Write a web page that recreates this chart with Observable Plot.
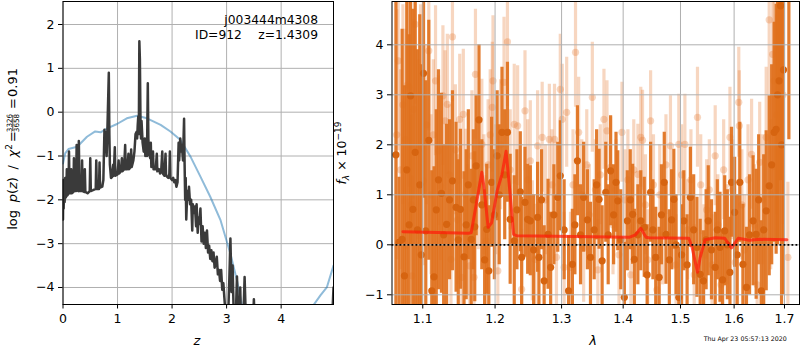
<!DOCTYPE html>
<html><head><meta charset="utf-8">
<script src="https://cdn.jsdelivr.net/npm/d3@7"></script>
<script src="https://cdn.jsdelivr.net/npm/@observablehq/plot@0.6"></script>
<style>
body{margin:0;background:#fff;}
#wrap{position:relative;width:800px;height:350px;font-family:"DejaVu Sans",sans-serif;background:#fff;}
#wrap svg{position:absolute;top:0;}
</style></head><body><div id="wrap"></div>
<script>
// ---------- Left panel: redshift probability ----------
const zTicks = [0, 1, 2, 3, 4];
const pTicks = [-4, -3, -2, -1, 0, 1, 2];
// log p(z): [z, log p]
const pzPoints = [[0.00,-2.45],[0.005,-1.55],[0.012,-2.2],[0.02,-1.7],[0.03,-2.05],[0.04,-1.5],[0.05,-1.95],[0.06,-1.92],[0.07,-1.3],[0.08,-1.9],[0.10,-1.86],[0.11,-0.9],[0.12,-1.85],[0.14,-1.85],[0.15,-1.3],[0.16,-1.85],[0.19,-1.82],[0.20,-1.05],[0.21,-1.8],[0.24,-1.8],[0.25,-0.75],[0.26,-1.78],[0.28,-1.8],[0.29,-0.66],[0.30,-1.5],[0.31,-1.8],[0.34,-1.8],[0.35,-1.1],[0.36,-1.8],[0.39,-1.82],[0.40,-1.3],[0.41,-1.82],[0.45,-1.85],[0.49,-1.8],[0.50,-1.05],[0.51,-1.8],[0.55,-1.78],[0.60,-1.75],[0.61,-1.1],[0.62,-1.75],[0.66,-1.75],[0.67,-1.15],[0.68,-1.72],[0.72,-1.7],[0.74,-1.55],[0.76,-0.4],[0.77,-0.7],[0.78,-0.45],[0.80,-1.0],[0.81,-0.6],[0.84,0.9],[0.85,-0.5],[0.86,-1.2],[0.88,-1.5],[0.90,-1.48],[0.92,-1.2],[0.93,-1.45],[0.95,-0.8],[0.96,-1.45],[1.00,-1.42],[1.02,-1.1],[1.03,-1.4],[1.06,-1.35],[1.08,-1.05],[1.09,-1.35],[1.12,-1.3],[1.14,-0.75],[1.15,-1.3],[1.18,-1.3],[1.20,-0.95],[1.21,-1.3],[1.24,-1.25],[1.25,-0.85],[1.26,-1.25],[1.29,-1.1],[1.31,-0.9],[1.33,-0.5],[1.35,-0.45],[1.36,-0.6],[1.37,-0.3],[1.38,-0.1],[1.39,-0.5],[1.40,1.62],[1.41,1.2],[1.42,-0.1],[1.43,-0.6],[1.44,-0.2],[1.46,-0.7],[1.48,-0.9],[1.50,-0.6],[1.51,-1.0],[1.53,-0.7],[1.54,-1.0],[1.555,0.66],[1.565,-0.6],[1.58,-0.95],[1.60,-1.05],[1.61,-0.7],[1.62,-1.25],[1.64,-1.15],[1.65,-0.9],[1.66,-1.3],[1.70,-1.3],[1.72,-0.95],[1.73,-1.35],[1.76,-1.3],[1.78,-1.4],[1.80,-1.35],[1.82,-0.9],[1.83,-1.4],[1.86,-1.45],[1.88,-0.95],[1.89,-1.45],[1.93,-1.5],[1.95,-1.4],[1.96,-0.9],[1.97,-1.5],[2.00,-1.55],[2.02,-1.5],[2.04,-1.6],[2.06,-1.55],[2.08,-1.7],[2.10,-1.6],[2.12,-0.7],[2.13,-1.1],[2.15,-0.6],[2.17,-0.9],[2.18,-0.75],[2.20,-1.1],[2.22,-0.15],[2.23,-1.2],[2.24,-2.0],[2.25,-1.5],[2.26,-2.45],[2.28,-1.8],[2.30,-2.0],[2.31,-1.7],[2.33,-2.1],[2.35,-2.0],[2.37,-2.7],[2.38,-2.1],[2.40,-2.3],[2.42,-2.15],[2.44,-2.6],[2.45,-2.1],[2.47,-2.75],[2.48,-2.4],[2.50,-2.55],[2.52,-2.2],[2.54,-2.95],[2.56,-2.6],[2.58,-3.0],[2.60,-2.75],[2.62,-3.1],[2.64,-2.7],[2.66,-3.2],[2.68,-3.05],[2.70,-3.35],[2.72,-3.15],[2.74,-3.4],[2.76,-3.2],[2.78,-3.55],[2.80,-3.45],[2.82,-3.3],[2.84,-3.7],[2.86,-3.6],[2.88,-3.85],[2.90,-3.6],[2.92,-4.05],[2.94,-3.9],[2.96,-4.25],[2.98,-4.6],[3.03,-4.6],[3.05,-3.8],[3.07,-2.88],[3.09,-4.1],[3.11,-3.5],[3.13,-4.6],[3.17,-4.6],[3.19,-3.75],[3.21,-4.6],[3.24,-4.6],[3.25,-4.0],[3.26,-4.6],[3.31,-4.6],[3.33,-3.76],[3.35,-4.6],[3.49,-4.6],[3.50,-4.27],[3.51,-4.6],[4.94,-4.6],[4.96,-4.0]];
// chi^2 curve: [z, value]; null = gap
const chiPoints = [[0.00,-1.17],[0.04,-0.94],[0.10,-0.84],[0.26,-0.79],[0.44,-0.56],[0.59,-0.44],[0.69,-0.46],[0.81,-0.37],[0.99,-0.27],[1.17,-0.14],[1.36,-0.08],[1.54,-0.14],[1.79,-0.29],[1.97,-0.44],[2.15,-0.63],[2.34,-1.02],[2.52,-1.47],[2.70,-1.93],[2.89,-2.47],[3.07,-3.23],[3.19,-3.84],[3.28,-4.39],[3.35,-4.8],[3.4,null],[4.5,null],[4.55,-4.8],[4.60,-4.39],[4.72,-4.18],[4.84,-3.99],[4.96,-3.5]];

// ---------- Right panel: spectrum ----------
const lamTicks = [1.1, 1.2, 1.3, 1.4, 1.5, 1.6, 1.7];
const fTicks = [-1, 0, 1, 2, 3, 4];
// [lambda, flux, error]
const darkPoints = [[1.065,1.8,4.0],[1.069,0.05,1.3],[1.073,0.11,4.2],[1.076,-0.62,3.8],[1.079,1.5,3.6],[1.082,0.4,3.8],[1.084,2.98,3.0],[1.087,0.71,4.0],[1.090,1.85,3.2],[1.093,0.3,3.6],[1.096,1.2,3.4],[1.098,-0.2,3.8],[1.101,3.43,2.5],[1.104,0.28,3.0],[1.108,2.09,2.4],[1.112,-0.92,2.4],[1.115,-0.64,2.2],[1.118,0.7,2.0],[1.121,1.3,2.2],[1.125,1.03,2.0],[1.128,0.2,1.8],[1.132,0.41,2.0],[1.136,0.9,1.6],[1.140,1.28,1.8],[1.145,0.75,1.7],[1.148,0.1,1.6],[1.151,0.71,1.6],[1.156,-0.24,1.7],[1.159,0.4,1.5],[1.162,1.2,1.5],[1.166,0.11,1.4],[1.169,0.9,1.4],[1.171,0.36,1.5],[1.173,1.58,1.4],[1.177,2.5,1.5],[1.181,0.8,1.3],[1.185,-0.3,1.4],[1.188,0.31,1.3],[1.191,-0.52,1.3],[1.195,1.25,1.3],[1.199,0.6,1.3],[1.203,1.78,1.3],[1.206,1.0,1.4],[1.210,2.25,1.3],[1.214,1.4,1.3],[1.218,2.25,1.4],[1.222,0.51,1.3],[1.228,0.08,1.3],[1.232,0.7,1.2],[1.237,1.06,1.2],[1.239,-0.25,1.2],[1.244,0.85,1.1],[1.248,0.51,1.1],[1.252,0.48,1.1],[1.257,-0.1,1.1],[1.263,0.55,1.1],[1.265,-0.25,1.1],[1.269,0.9,1.0],[1.273,-0.72,1.1],[1.279,0.21,1.1],[1.283,-0.45,1.1],[1.288,0.6,1.0],[1.294,0.95,1.1],[1.298,1.38,1.1],[1.304,0.3,1.0],[1.311,-0.92,1.1],[1.317,-0.39,1.1],[1.321,0.4,1.0],[1.325,1.68,1.1],[1.330,0.2,1.0],[1.335,0.95,1.1],[1.341,0.5,1.0],[1.346,-0.25,1.1],[1.352,0.3,1.0],[1.356,1.2,1.1],[1.360,0.91,1.0],[1.365,-0.32,1.1],[1.371,1.05,1.0],[1.375,0.2,1.0],[1.379,1.48,1.1],[1.384,0.6,1.0],[1.388,1.25,1.0],[1.391,0.88,1.0],[1.396,0.1,1.0],[1.402,-1.05,1.1],[1.407,0.48,1.0],[1.412,0.9,1.0],[1.416,0.61,1.0],[1.419,-0.29,1.0],[1.425,0.2,1.0],[1.430,0.48,1.0],[1.436,0.35,1.0],[1.441,-0.6,1.0],[1.447,1.05,1.0],[1.451,0.3,1.0],[1.456,-0.25,1.0],[1.462,-0.65,1.0],[1.466,0.6,1.0],[1.471,1.25,1.0],[1.474,0.21,1.0],[1.480,-0.3,1.0],[1.484,0.5,1.0],[1.488,0.91,1.0],[1.492,0.0,1.0],[1.497,-1.05,1.0],[1.502,-0.2,1.0],[1.506,0.48,1.0],[1.512,-0.4,1.0],[1.518,0.95,1.0],[1.524,0.3,1.1],[1.530,-0.05,1.0],[1.536,-0.59,1.1],[1.542,-0.72,1.0],[1.547,0.1,1.0],[1.551,0.48,1.1],[1.557,-0.1,1.0],[1.564,-0.45,1.1],[1.568,0.3,1.0],[1.573,-0.05,1.1],[1.578,-0.7,1.0],[1.582,0.28,1.1],[1.587,0.0,1.1],[1.592,-0.55,1.1],[1.595,1.25,1.1],[1.601,0.65,1.1],[1.606,-0.2,1.2],[1.611,1.25,1.2],[1.617,-0.39,1.2],[1.624,-0.85,1.2],[1.630,0.2,1.2],[1.637,0.48,1.3],[1.643,0.21,1.3],[1.648,0.9,1.3],[1.653,-0.92,1.4],[1.658,0.3,1.5],[1.663,0.68,1.6],[1.669,1.18,1.8],[1.674,1.6,2.0],[1.679,2.25,2.2],[1.683,2.31,2.5],[1.686,3.0,3.0],[1.689,3.28,3.2],[1.692,4.78,3.5],[1.694,2.0,4.0],[1.698,3.5,4.5],[1.709,5.5,3.4]];
const lightPoints = [[1.066,2.2,2.5],[1.068,3.68,1.8],[1.071,1.5,2.0],[1.074,2.8,2.0],[1.077,2.11,2.2],[1.080,3.2,1.8],[1.082,3.15,2.0],[1.085,0.8,1.8],[1.086,-0.62,2.0],[1.088,2.71,1.8],[1.090,4.41,1.6],[1.094,1.9,1.8],[1.097,3.0,1.8],[1.101,1.28,1.7],[1.105,2.4,1.6],[1.108,3.88,1.6],[1.111,1.0,1.6],[1.114,2.2,1.5],[1.117,3.28,1.5],[1.121,1.88,1.5],[1.124,1.18,1.5],[1.127,2.98,1.4],[1.130,2.48,1.4],[1.133,2.81,1.4],[1.136,1.4,1.4],[1.138,-0.29,1.4],[1.140,4.16,1.3],[1.144,1.9,1.3],[1.147,0.5,1.3],[1.150,2.51,1.3],[1.153,-0.65,1.3],[1.155,2.61,1.3],[1.158,1.01,1.3],[1.161,0.3,1.3],[1.164,-0.42,1.3],[1.167,1.78,1.3],[1.170,-0.65,1.3],[1.172,3.41,1.3],[1.176,1.2,1.3],[1.181,2.01,1.3],[1.184,1.0,1.2],[1.187,0.08,1.3],[1.190,1.6,1.3],[1.193,2.2,1.3],[1.196,2.75,1.3],[1.197,3.28,1.3],[1.201,1.1,1.3],[1.204,-0.52,1.3],[1.208,2.0,1.3],[1.213,3.25,1.3],[1.218,4.06,1.3],[1.222,1.5,1.2],[1.228,2.41,1.2],[1.233,2.38,1.2],[1.239,-0.89,1.2],[1.244,2.68,1.2],[1.248,1.3,1.2],[1.252,1.68,1.2],[1.255,0.08,1.2],[1.259,-0.29,1.1],[1.263,1.98,1.1],[1.270,2.15,1.1],[1.275,0.9,1.1],[1.281,2.11,1.1],[1.285,1.2,1.1],[1.289,2.11,1.1],[1.292,-0.25,1.1],[1.298,3.11,1.1],[1.301,2.51,1.1],[1.304,-0.45,1.1],[1.308,2.65,1.1],[1.314,-0.45,1.1],[1.318,1.2,1.1],[1.322,3.85,1.1],[1.327,2.25,1.1],[1.332,1.0,1.1],[1.335,-0.05,1.1],[1.340,1.6,1.1],[1.344,0.6,1.0],[1.349,2.95,1.1],[1.354,1.1,1.0],[1.358,-0.5,1.0],[1.362,1.4,1.0],[1.368,2.51,1.0],[1.373,2.28,1.0],[1.379,1.55,1.0],[1.383,0.4,1.0],[1.388,1.1,1.0],[1.393,-0.2,1.0],[1.398,2.25,1.0],[1.403,0.9,1.0],[1.408,1.3,1.0],[1.413,-0.6,1.0],[1.418,1.5,1.0],[1.425,1.41,1.0],[1.430,2.15,1.0],[1.433,2.09,1.0],[1.438,0.8,1.0],[1.442,-0.3,1.0],[1.447,2.48,1.0],[1.452,1.2,1.0],[1.458,-0.9,1.0],[1.463,1.0,1.0],[1.468,0.2,1.0],[1.474,1.6,1.0],[1.482,1.98,1.0],[1.487,0.5,1.0],[1.492,-0.4,1.0],[1.497,2.01,1.0],[1.502,1.4,1.0],[1.508,2.01,1.0],[1.513,0.3,1.0],[1.519,1.3,1.0],[1.525,-0.6,1.0],[1.531,2.55,1.0],[1.537,1.2,1.0],[1.543,-0.2,1.0],[1.548,0.7,1.0],[1.553,1.1,1.0],[1.558,-0.4,1.0],[1.564,1.78,1.0],[1.569,0.4,1.0],[1.575,-0.8,1.0],[1.580,1.5,1.0],[1.586,0.2,1.0],[1.592,2.15,1.0],[1.597,1.1,1.0],[1.602,-0.35,1.0],[1.609,2.85,1.1],[1.610,2.38,1.1],[1.615,0.8,1.1],[1.620,-0.1,1.1],[1.627,1.3,1.1],[1.634,1.81,1.1],[1.640,0.4,1.2],[1.645,-0.8,1.2],[1.650,1.65,1.2],[1.656,0.9,1.3],[1.663,2.15,1.4],[1.669,4.5,1.5],[1.672,1.0,1.5],[1.676,3.81,1.6],[1.679,3.28,1.8],[1.684,2.6,2.0],[1.688,4.0,2.2],[1.691,4.25,2.4],[1.697,3.0,2.6],[1.707,-0.25,1.5]];
// model line: [lambda, flux]
const modelPoints = [[1.074,0.26],[1.120,0.245],[1.162,0.23],[1.166,0.24],[1.173,0.8],[1.181,1.45],[1.184,1.17],[1.190,0.35],[1.195,0.44],[1.203,1.08],[1.210,1.41],[1.216,1.87],[1.222,1.01],[1.227,0.21],[1.232,0.18],[1.320,0.165],[1.410,0.15],[1.421,0.2],[1.430,0.33],[1.439,0.15],[1.444,0.14],[1.515,0.13],[1.521,-0.05],[1.531,-0.55],[1.536,-0.25],[1.545,0.1],[1.564,0.14],[1.582,0.13],[1.595,-0.06],[1.608,0.13],[1.630,0.09],[1.650,0.11],[1.705,0.1]];

const FONT = "DejaVu Sans";
const GRID = "#b0b0b0";
const intFmt = d => (d < 0 ? "\u2212" : "") + Math.abs(d);
const wrap = document.getElementById("wrap");

const leftSvg = Plot.plot({
  width: 340, height: 350,
  marginLeft: 62.5, marginRight: 7, marginTop: 1, marginBottom: 46,
  style: {fontFamily: FONT, fontSize: "12.5px", background: "white", color: "black"},
  x: {domain: [0, 4.96]},
  y: {domain: [-4.388, 2.525]},
  marks: [
    Plot.gridX(zTicks, {stroke: GRID, strokeOpacity: 1, strokeWidth: 1}),
    Plot.gridY(pTicks, {stroke: GRID, strokeOpacity: 1, strokeWidth: 1}),
    Plot.line(chiPoints, {x: d => d[0], y: d => d[1], stroke: "#1f77b4", strokeOpacity: 0.5, strokeWidth: 2, clip: true}),
    Plot.line(pzPoints, {x: d => d[0], y: d => d[1], stroke: "#3a3a3a", strokeOpacity: 1, strokeWidth: 2.5, clip: true}),
    Plot.frame({stroke: "black", strokeWidth: 1}),
    Plot.axisX(zTicks, {tickSize: 4.5, tickPadding: 5, label: null, tickFormat: intFmt}),
    Plot.axisY(pTicks, {tickSize: 4.5, tickPadding: 4, label: null, tickFormat: intFmt})
  ]
});
leftSvg.style.left = "0px";
wrap.appendChild(leftSvg);

const RX = 320; // right svg offset
const rightSvg = Plot.plot({
  width: 800 - RX, height: 350,
  marginLeft: 391.5 - RX, marginRight: 1, marginTop: 1, marginBottom: 46,
  style: {fontFamily: FONT, fontSize: "12.5px", background: "transparent", color: "black"},
  x: {type: "log", domain: [1.06, 1.731]},
  y: {domain: [-1.194, 4.866]},
  marks: [
    Plot.ruleX(lightPoints, {x: d => d[0], y1: d => d[1] - d[2], y2: d => d[1] + d[2], stroke: "#e6782d", strokeOpacity: 0.3, strokeWidth: 3.2, clip: true}),
    Plot.dot(lightPoints, {x: d => d[0], y: d => d[1], r: 3.6, fill: "#e6782d", fillOpacity: 0.3, stroke: "none", clip: true}),
    Plot.ruleX(darkPoints, {x: d => d[0], y1: d => d[1] - d[2], y2: d => d[1] + d[2], stroke: "#e0711d", strokeOpacity: 0.92, strokeWidth: 3.2, clip: true}),
    Plot.dot(darkPoints, {x: d => d[0], y: d => d[1], r: 3.6, fill: "#d66410", stroke: "none", clip: true}),
    Plot.gridX(lamTicks, {stroke: GRID, strokeOpacity: 1, strokeWidth: 1}),
    Plot.gridY(fTicks, {stroke: GRID, strokeOpacity: 1, strokeWidth: 1}),
    Plot.line(modelPoints, {x: d => d[0], y: d => d[1], stroke: "#ff1a0a", strokeOpacity: 0.72, strokeWidth: 3, clip: true}),
    Plot.ruleY([0], {stroke: "black", strokeWidth: 1.8, strokeDasharray: "1.8,2.2"}),
    Plot.frame({stroke: "black", strokeWidth: 1}),
    Plot.axisX(lamTicks, {tickSize: 4.5, tickPadding: 5, label: null, tickFormat: d3.format(".1f")}),
    Plot.axisY(fTicks, {tickSize: 4.5, tickPadding: 4, label: null, tickFormat: intFmt})
  ]
});
rightSvg.style.left = RX + "px";
wrap.appendChild(rightSvg);

// ----- texts for left panel -----
const L = d3.select(leftSvg);
L.append("text").attr("x", 318).attr("y", 24).attr("text-anchor", "end")
  .attr("font-family", FONT).attr("font-size", 12.3).attr("fill", "black").text("j003444m4308");
L.append("text").attr("x", 195).attr("y", 38.5).attr("text-anchor", "start")
  .attr("font-family", FONT).attr("font-size", 12.3).attr("fill", "black").text("ID=912");
L.append("text").attr("x", 318).attr("y", 38.5).attr("text-anchor", "end")
  .attr("font-family", FONT).attr("font-size", 12.3).attr("fill", "black").text("z=1.4309");
L.append("text").attr("x", 197).attr("y", 345).attr("text-anchor", "middle")
  .attr("font-family", FONT).attr("font-size", 13).attr("font-style", "italic").attr("fill", "black").text("z");

// rotated y label: local x runs upward on screen (screen y = 148 - local x)
const g = L.append("g").attr("transform", "translate(16.7,148) rotate(-90)")
  .attr("font-family", FONT).attr("fill", "black");
const t1 = g.append("text").attr("x", 4).attr("y", 0).attr("text-anchor", "end").attr("font-size", 13)
  .style("word-spacing", "3.5px");
t1.append("tspan").text("log ");
t1.append("tspan").attr("font-style", "italic").text("p");
t1.append("tspan").text("(");
t1.append("tspan").attr("font-style", "italic").text("z");
t1.append("tspan").text(") / ");
t1.append("tspan").attr("font-style", "italic").text("χ");
t1.append("tspan").attr("font-size", 9).attr("dy", -5).text("2");
g.append("text").attr("x", 11.5).attr("y", 0).attr("text-anchor", "middle").attr("font-size", 13).text("=");
g.append("text").attr("x", 25).attr("y", -4.8).attr("text-anchor", "middle").attr("font-size", 7.2).text("3326");
g.append("line").attr("x1", 17).attr("x2", 33).attr("y1", -3.9).attr("y2", -3.9).attr("stroke", "black").attr("stroke-width", 0.7);
g.append("text").attr("x", 25).attr("y", 1.9).attr("text-anchor", "middle").attr("font-size", 7.2).text("3658");
g.append("text").attr("x", 44.5).attr("y", 0).attr("text-anchor", "middle").attr("font-size", 13).text("=");
g.append("text").attr("x", 51).attr("y", 0).attr("text-anchor", "start").attr("font-size", 13).text("0.91");

// ----- texts for right panel -----
const R = d3.select(rightSvg);
R.append("text").attr("x", 593 - RX).attr("y", 345).attr("text-anchor", "middle")
  .attr("font-family", FONT).attr("font-size", 13).attr("font-style", "italic").attr("fill", "black").text("λ");
R.append("text").attr("x", 786.7 - RX).attr("y", 341).attr("text-anchor", "end")
  .attr("font-family", FONT).attr("font-size", 6.3).attr("fill", "black").text("Thu Apr 23 05:57:13 2020");
const yl = R.append("text").attr("transform", `translate(${346 - RX},153) rotate(-90)`).attr("text-anchor", "middle")
  .attr("font-family", FONT).attr("font-size", 12.5).attr("fill", "black");
yl.append("tspan").attr("font-style", "italic").text("f");
yl.append("tspan").attr("font-style", "italic").attr("font-size", 9).attr("dy", 3).text("λ");
yl.append("tspan").attr("dy", -3).text(" × 10");
yl.append("tspan").attr("font-size", 9).attr("dy", -5).text("−19");
</script>
</body></html>
